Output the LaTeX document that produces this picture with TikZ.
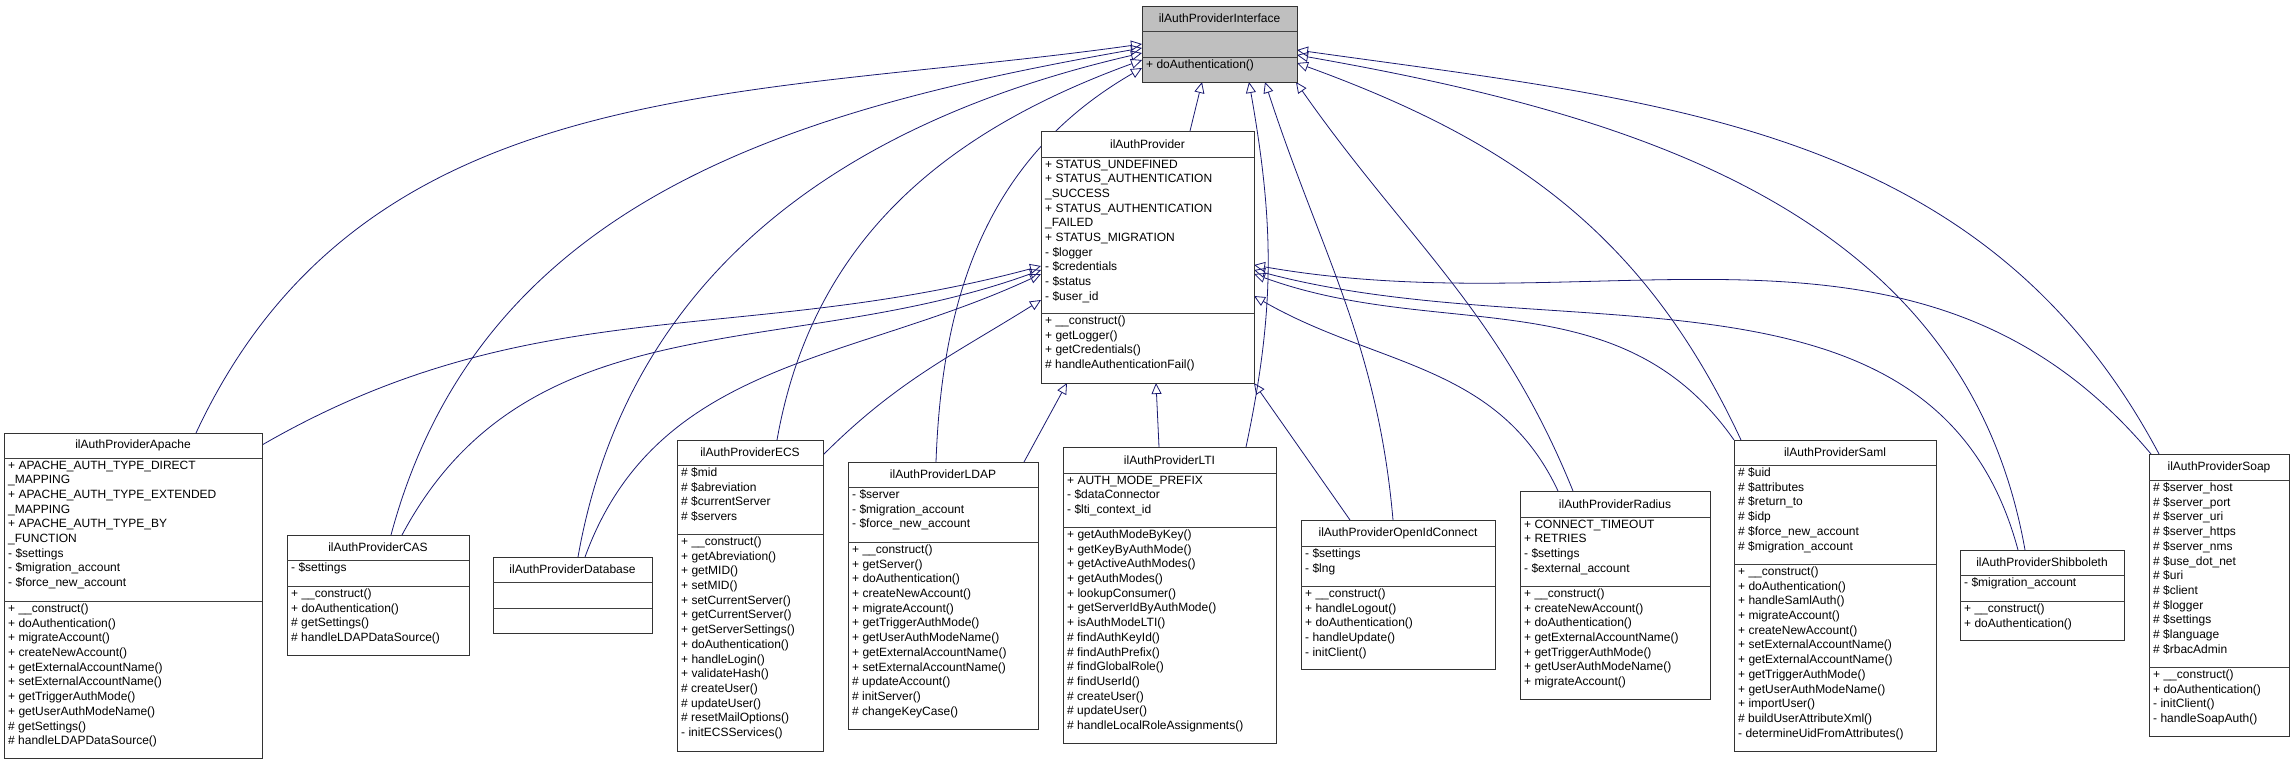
\documentclass[tikz,border=0pt]{standalone}
\usepackage{fontspec}
\setmainfont{Liberation Sans}
\usetikzlibrary{arrows.meta}
\definecolor{edge}{HTML}{191970}
\definecolor{ifgray}{HTML}{BFBFBF}
\pgfdeclarelayer{bg}\pgfsetlayers{bg,main}
\def\clsfill{white}
\newcommand\cls[9]{%
  \node[box, minimum width={#3pt-#2pt}, minimum height={#7pt-#4pt}] (#1) at (#2,#4) {};
  \draw[thick,black!75] (#2,#5) -- (#3,#5) (#2,#6) -- (#3,#6);
  \node[ttl] (#1-t) at ({(#2+#3)/2},{(#4+#5)/2}) {#8};
  \node[txt] (#1-a) at (#2+4,#5+2.5) {#9};
  \coordinate (#1-m) at (#2+4,#6+2.5);}
\begin{document}
\begin{tikzpicture}[x=1pt,y=-1pt,
  box/.style={draw=black!80, thick, fill=\clsfill, anchor=north west, inner sep=0pt, outer sep=0pt},
  ttl/.style={font=\fontsize{12}{14.7}\selectfont, inner sep=0pt},
  txt/.style={font=\fontsize{12}{14.7}\selectfont, align=left, anchor=north west, inner sep=0pt},
  inh/.style={draw=edge, line width=0.8pt, -{Triangle[open, length=11pt, width=10pt]}}]
\useasboundingbox (0,0) rectangle (2293,764);

{\def\clsfill{ifgray}\cls{iface}{1142}{1297}{6}{31}{57}{82}{ilAuthProviderInterface}{}}
\node[txt] at (iface-m) {+ doAuthentication()};

\cls{prov}{1041}{1254}{131}{157}{313}{383}{ilAuthProvider}{+ STATUS\_UNDEFINED\\+ STATUS\_AUTHENTICATION\\\_SUCCESS\\+ STATUS\_AUTHENTICATION\\\_FAILED\\+ STATUS\_MIGRATION\\- \$logger\\- \$credentials\\- \$status\\- \$user\_id}
\node[txt] at (prov-m) {+ \_\_construct()\\+ getLogger()\\+ getCredentials()\\\# handleAuthenticationFail()};

\cls{apache}{4}{262}{433}{458}{601}{758}{ilAuthProviderApache}{+ APACHE\_AUTH\_TYPE\_DIRECT\\\_MAPPING\\+ APACHE\_AUTH\_TYPE\_EXTENDED\\\_MAPPING\\+ APACHE\_AUTH\_TYPE\_BY\\\_FUNCTION\\- \$settings\\- \$migration\_account\\- \$force\_new\_account}
\node[txt] at (apache-m) {+ \_\_construct()\\+ doAuthentication()\\+ migrateAccount()\\+ createNewAccount()\\+ getExternalAccountName()\\+ setExternalAccountName()\\+ getTriggerAuthMode()\\+ getUserAuthModeName()\\\# getSettings()\\\# handleLDAPDataSource()};

\cls{cas}{287}{469}{535}{560}{586}{655}{ilAuthProviderCAS}{- \$settings}
\node[txt] at (cas-m) {+ \_\_construct()\\+ doAuthentication()\\\# getSettings()\\\# handleLDAPDataSource()};

\cls{db}{493}{652}{557}{582}{608}{633}{ilAuthProviderDatabase}{}

\cls{ecs}{677}{823}{440}{465}{534}{751}{ilAuthProviderECS}{\# \$mid\\\# \$abreviation\\\# \$currentServer\\\# \$servers}
\node[txt] at (ecs-m) {+ \_\_construct()\\+ getAbreviation()\\+ getMID()\\+ setMID()\\+ setCurrentServer()\\+ getCurrentServer()\\+ getServerSettings()\\+ doAuthentication()\\+ handleLogin()\\+ validateHash()\\\# createUser()\\\# updateUser()\\\# resetMailOptions()\\- initECSServices()};

\cls{ldap}{848}{1038}{462}{487}{542}{729}{ilAuthProviderLDAP}{- \$server\\- \$migration\_account\\- \$force\_new\_account}
\node[txt] at (ldap-m) {+ \_\_construct()\\+ getServer()\\+ doAuthentication()\\+ createNewAccount()\\+ migrateAccount()\\+ getTriggerAuthMode()\\+ getUserAuthModeName()\\+ getExternalAccountName()\\+ setExternalAccountName()\\\# updateAccount()\\\# initServer()\\\# changeKeyCase()};

\cls{lti}{1063}{1276}{447}{473}{527}{743}{ilAuthProviderLTI}{+ AUTH\_MODE\_PREFIX\\- \$dataConnector\\- \$lti\_context\_id}
\node[txt] at (lti-m) {+ getAuthModeByKey()\\+ getKeyByAuthMode()\\+ getActiveAuthModes()\\+ getAuthModes()\\+ lookupConsumer()\\+ getServerIdByAuthMode()\\+ isAuthModeLTI()\\\# findAuthKeyId()\\\# findAuthPrefix()\\\# findGlobalRole()\\\# findUserId()\\\# createUser()\\\# updateUser()\\\# handleLocalRoleAssignments()};

\cls{oidc}{1301}{1495}{520}{546}{586}{669}{ilAuthProviderOpenIdConnect}{- \$settings\\- \$lng}
\node[txt] at (oidc-m) {+ \_\_construct()\\+ handleLogout()\\+ doAuthentication()\\- handleUpdate()\\- initClient()};

\cls{radius}{1520}{1710}{491}{517}{586}{699}{ilAuthProviderRadius}{+ CONNECT\_TIMEOUT\\+ RETRIES\\- \$settings\\- \$external\_account}
\node[txt] at (radius-m) {+ \_\_construct()\\+ createNewAccount()\\+ doAuthentication()\\+ getExternalAccountName()\\+ getTriggerAuthMode()\\+ getUserAuthModeName()\\+ migrateAccount()};

\cls{saml}{1734}{1936}{440}{465}{564}{751}{ilAuthProviderSaml}{\# \$uid\\\# \$attributes\\\# \$return\_to\\\# \$idp\\\# \$force\_new\_account\\\# \$migration\_account}
\node[txt] at (saml-m) {+ \_\_construct()\\+ doAuthentication()\\+ handleSamlAuth()\\+ migrateAccount()\\+ createNewAccount()\\+ setExternalAccountName()\\+ getExternalAccountName()\\+ getTriggerAuthMode()\\+ getUserAuthModeName()\\+ importUser()\\\# buildUserAttributeXml()\\- determineUidFromAttributes()};

\cls{shib}{1960}{2124}{550}{575}{601}{640}{ilAuthProviderShibboleth}{- \$migration\_account}
\node[txt] at (shib-m) {+ \_\_construct()\\+ doAuthentication()};

\cls{soap}{2149}{2289}{454}{480}{667}{736}{ilAuthProviderSoap}{\# \$server\_host\\\# \$server\_port\\\# \$server\_uri\\\# \$server\_https\\\# \$server\_nms\\\# \$use\_dot\_net\\\# \$uri\\\# \$client\\\# \$logger\\\# \$settings\\\# \$language\\\# \$rbacAdmin}
\node[txt] at (soap-m) {+ \_\_construct()\\+ doAuthentication()\\- initClient()\\- handleSoapAuth()};

% attach points
\coordinate (i1) at (1142,44); \coordinate (i2) at (1142,48); \coordinate (i3) at (1142,53);
\coordinate (i4) at (1142,60); \coordinate (i5) at (1142,68); \coordinate (i6) at (1202,82);
\coordinate (i7) at (1249,82); \coordinate (i8) at (1265,82); \coordinate (i9) at (1296,82);
\coordinate (i10) at (1297,63); \coordinate (i11) at (1297,55); \coordinate (i12) at (1297,50);
\coordinate (p1) at (1041,266); \coordinate (p2) at (1041,270); \coordinate (p3) at (1041,274);
\coordinate (p4) at (1041,300); \coordinate (p5) at (1067,383); \coordinate (p6) at (1156,383);
\coordinate (p7) at (1254,383); \coordinate (p8) at (1254,296); \coordinate (p9) at (1254,274);
\coordinate (p10) at (1254,270); \coordinate (p11) at (1254,265);
\coordinate (a1) at (196,433); \coordinate (a2) at (262,445);
\coordinate (c1) at (391,535); \coordinate (c2) at (402,535);
\coordinate (d1) at (578,557); \coordinate (d2) at (585,557);
\coordinate (e1) at (777,440); \coordinate (e2) at (823,455);
\coordinate (l1) at (936,462); \coordinate (l2) at (1024,462);
\coordinate (t1) at (1159,447); \coordinate (t2) at (1246,447);
\coordinate (o1) at (1350,520); \coordinate (o2) at (1393,520);
\coordinate (r1) at (1558,491); \coordinate (r2) at (1573,491);
\coordinate (s1) at (1734,440); \coordinate (s2) at (1741,440);
\coordinate (h1) at (2018,550); \coordinate (h2) at (2025,550);
\coordinate (q1) at (2151,454); \coordinate (q2) at (2159,454);
\coordinate (pt) at (1190,131);

\begin{pgfonlayer}{bg}
\draw[inh] (a1) to[out=65,in=188] (i1);
\draw[inh] (c1) to[out=75,in=190] (i2);
\draw[inh] (d1) to[out=80,in=193] (i3);
\draw[inh] (e1) to[out=80,in=200] (i4);
\draw[inh] (l1) to[out=88,in=210] (i5);
\draw[inh] (pt) -- (i6);
\draw[inh] (t2) to[out=78,in=-80] (i7);
\draw[inh] (o2) to[out=95,in=-72] (i8);
\draw[inh] (r2) to[out=112,in=-55] (i9);
\draw[inh] (s2) to[out=115,in=-20] (i10);
\draw[inh] (h2) to[out=100,in=-10] (i11);
\draw[inh] (q2) to[out=118,in=-8] (i12);
\draw[inh] (a2) to[out=30,in=195] (p1);
\draw[inh] (c2) to[out=62,in=200] (p2);
\draw[inh] (d2) to[out=70,in=205] (p3);
\draw[inh] (e2) to[out=45,in=212] (p4);
\draw[inh] (l2) -- (p5);
\draw[inh] (t1) -- (p6);
\draw[inh] (o1) -- (p7);
\draw[inh] (r1) to[out=115,in=-30] (p8);
\draw[inh] (s1) to[out=125,in=-20] (p9);
\draw[inh] (h1) to[out=105,in=-15] (p10);
\draw[inh] (q1) to[out=130,in=-10] (p11);
\end{pgfonlayer}
\end{tikzpicture}
\end{document}
